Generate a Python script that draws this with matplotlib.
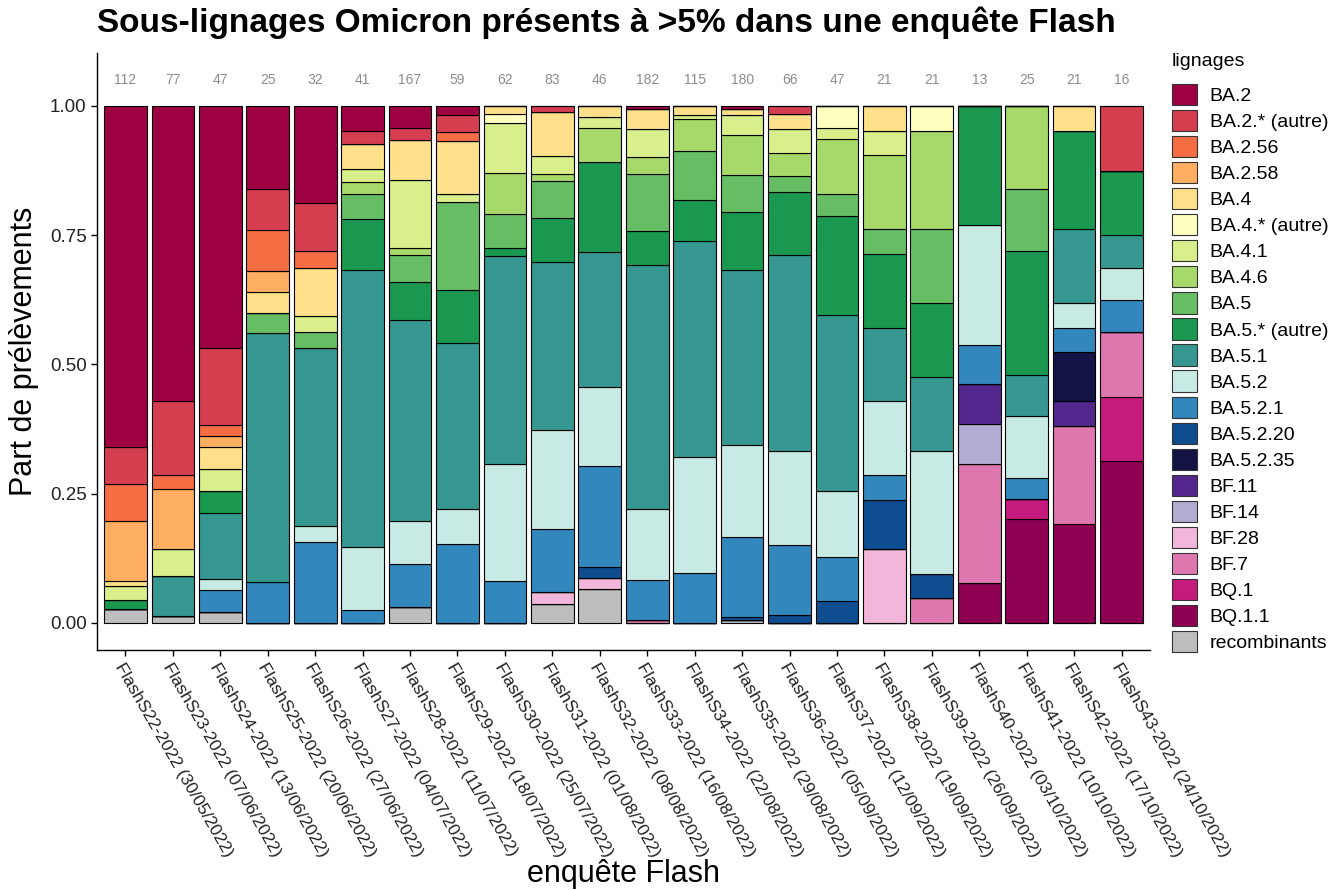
import numpy as np
import matplotlib
matplotlib.use('Agg')
import matplotlib.pyplot as plt
from matplotlib.patches import Patch

plt.rcParams['font.family'] = ['Liberation Sans', 'DejaVu Sans']

# enquêtes Flash (semaine, date de début)
surveys = ['FlashS22-2022', 'FlashS23-2022', 'FlashS24-2022', 'FlashS25-2022', 'FlashS26-2022',
           'FlashS27-2022', 'FlashS28-2022', 'FlashS29-2022', 'FlashS30-2022', 'FlashS31-2022',
           'FlashS32-2022', 'FlashS33-2022', 'FlashS34-2022', 'FlashS35-2022', 'FlashS36-2022',
           'FlashS37-2022', 'FlashS38-2022', 'FlashS39-2022', 'FlashS40-2022', 'FlashS41-2022',
           'FlashS42-2022', 'FlashS43-2022']
dates = ['30/05/2022', '07/06/2022', '13/06/2022', '20/06/2022', '27/06/2022', '04/07/2022',
         '11/07/2022', '18/07/2022', '25/07/2022', '01/08/2022', '08/08/2022', '16/08/2022',
         '22/08/2022', '29/08/2022', '05/09/2022', '12/09/2022', '19/09/2022', '26/09/2022',
         '03/10/2022', '10/10/2022', '17/10/2022', '24/10/2022']
n_total = [112, 77, 47, 25, 32, 41, 167, 59, 62, 83, 46, 182, 115, 180, 66, 47, 21, 21, 13, 25, 21, 16]

# nombre de prélèvements par lignage (un élément par enquête)
ba2 = [74, 44, 22, 4, 6, 2, 7, 1, 0, 0, 0, 1, 0, 1, 0, 0, 0, 0, 0, 0, 0, 0]
ba2_autre = [8, 11, 7, 2, 3, 1, 4, 2, 0, 1, 0, 0, 0, 0, 1, 0, 0, 0, 0, 0, 0, 2]
ba2_56 = [8, 2, 1, 2, 1, 0, 0, 1, 0, 0, 0, 0, 0, 0, 0, 0, 0, 0, 0, 0, 0, 0]
ba2_58 = [13, 9, 1, 1, 0, 0, 0, 0, 0, 0, 0, 0, 0, 0, 0, 0, 0, 0, 0, 0, 0, 0]
ba4 = [1, 0, 2, 1, 3, 2, 13, 6, 1, 7, 1, 7, 2, 2, 2, 0, 1, 0, 0, 0, 1, 0]
ba4_autre = [0, 0, 0, 0, 0, 0, 0, 0, 1, 0, 0, 0, 0, 0, 0, 2, 0, 1, 0, 0, 0, 0]
ba4_1 = [3, 4, 2, 0, 1, 1, 22, 1, 6, 3, 1, 10, 1, 7, 3, 1, 1, 0, 0, 0, 0, 0]
ba4_6 = [0, 0, 0, 0, 0, 1, 2, 0, 5, 1, 3, 6, 7, 14, 3, 5, 3, 4, 0, 4, 0, 0]
ba5 = [0, 0, 0, 1, 1, 2, 9, 10, 4, 6, 0, 20, 11, 13, 2, 2, 1, 3, 0, 3, 0, 0]
ba5_autre = [2, 0, 2, 0, 0, 4, 12, 6, 1, 7, 8, 12, 9, 20, 8, 9, 3, 3, 3, 6, 4, 2]
ba5_1 = [0, 6, 6, 12, 11, 22, 65, 19, 25, 27, 12, 86, 48, 61, 25, 16, 3, 3, 0, 2, 3, 1]
ba5_2 = [0, 0, 1, 0, 1, 5, 14, 4, 14, 16, 7, 25, 26, 32, 12, 6, 3, 5, 3, 3, 1, 1]
ba5_2_1 = [0, 0, 2, 2, 5, 1, 14, 9, 5, 10, 9, 14, 11, 28, 9, 4, 1, 0, 1, 1, 1, 1]
ba5_2_20 = [0, 0, 0, 0, 0, 0, 0, 0, 0, 0, 1, 0, 0, 1, 1, 2, 2, 1, 0, 0, 0, 0]
ba5_2_35 = [0, 0, 0, 0, 0, 0, 0, 0, 0, 0, 0, 0, 0, 0, 0, 0, 0, 0, 0, 0, 2, 0]
bf11 = [0, 0, 0, 0, 0, 0, 0, 0, 0, 0, 0, 0, 0, 0, 0, 0, 0, 0, 1, 0, 1, 0]
bf14 = [0, 0, 0, 0, 0, 0, 0, 0, 0, 0, 0, 0, 0, 0, 0, 0, 0, 0, 1, 0, 0, 0]
bf28 = [0, 0, 0, 0, 0, 0, 0, 0, 0, 2, 1, 0, 0, 0, 0, 0, 3, 0, 0, 0, 0, 0]
bf7 = [0, 0, 0, 0, 0, 0, 0, 0, 0, 0, 0, 1, 0, 0, 0, 0, 0, 1, 3, 0, 4, 2]
bq1 = [0, 0, 0, 0, 0, 0, 0, 0, 0, 0, 0, 0, 0, 0, 0, 0, 0, 0, 0, 1, 0, 2]
bq1_1 = [0, 0, 0, 0, 0, 0, 0, 0, 0, 0, 0, 0, 0, 0, 0, 0, 0, 0, 1, 5, 4, 5]
recomb = [3, 1, 1, 0, 0, 0, 5, 0, 0, 3, 3, 0, 0, 1, 0, 0, 0, 0, 0, 0, 0, 0]

lineages = ['BA.2', 'BA.2.* (autre)', 'BA.2.56', 'BA.2.58', 'BA.4', 'BA.4.* (autre)', 'BA.4.1',
            'BA.4.6', 'BA.5', 'BA.5.* (autre)', 'BA.5.1', 'BA.5.2', 'BA.5.2.1', 'BA.5.2.20',
            'BA.5.2.35', 'BF.11', 'BF.14', 'BF.28', 'BF.7', 'BQ.1', 'BQ.1.1', 'recombinants']
counts = [ba2, ba2_autre, ba2_56, ba2_58, ba4, ba4_autre, ba4_1, ba4_6, ba5, ba5_autre, ba5_1,
          ba5_2, ba5_2_1, ba5_2_20, ba5_2_35, bf11, bf14, bf28, bf7, bq1, bq1_1, recomb]
colors = ['#9E0142', '#D53E4F', '#F46D43', '#FDAE61', '#FEE08B', '#FFFFBF', '#D9EF8B',
          '#A6D96A', '#66BD63', '#1A9850', '#35978F', '#C7EAE5', '#3288BD', '#0E4D8F',
          '#131345', '#54278F', '#B2ABD2', '#F1B6DA', '#DE77AE', '#C51B7D', '#8E0152', '#BEBEBE']

fig = plt.figure(figsize=(13.44, 8.9), dpi=100)
ax = fig.add_axes([97 / 1344, 1 - 650 / 890, (1150 - 97) / 1344, (650 - 53) / 890])

x = np.arange(1, len(surveys) + 1)
n_arr = np.array(n_total, dtype=float)
bottom = np.zeros(len(surveys))
# empilement : recombinants en bas, BA.2 en haut
for name, c, col in reversed(list(zip(lineages, counts, colors))):
    frac = np.array(c) / n_arr
    ax.bar(x, frac, width=0.9, bottom=bottom, color=col, edgecolor='black', linewidth=0.8)
    bottom += frac

for xi, n in zip(x, n_total):
    ax.text(xi, 1.05, str(n), ha='center', va='center', fontsize=10, color='#8C8C8C')

ax.set_xlim(0.4, len(surveys) + 0.6)
ax.set_ylim(-0.0525, 1.1025)
ax.set_yticks([0, 0.25, 0.5, 0.75, 1.0])
ax.set_yticklabels(['0.00', '0.25', '0.50', '0.75', '1.00'], fontsize=13.5, color='#222222')
ax.set_xticks(x)
ax.set_xticklabels([f'{s} ({d})' for s, d in zip(surveys, dates)], rotation=-60,
                   ha='left', va='top', rotation_mode='anchor', fontsize=12.5, color='#222222')
ax.spines['top'].set_visible(False)
ax.spines['right'].set_visible(False)
ax.spines['left'].set_linewidth(1.0)
ax.spines['bottom'].set_linewidth(1.0)
ax.tick_params(length=4, width=1.0)
ax.set_ylabel('Part de prélèvements', fontsize=22, labelpad=8)

fig.text((97 + 1150) / 2 / 1344, 1 - 874 / 890, 'enquête Flash', ha='center', va='center', fontsize=22)
fig.text(97 / 1344, 1 - 23 / 890, 'Sous-lignages Omicron présents à >5% dans une enquête Flash',
         ha='left', va='center', fontsize=24, fontweight='bold')

# légende : titre posé à part pour régler l'écart avec les clés
fig.text(1172 / 1344, 1 - 62 / 890, 'lignages', ha='left', va='center', fontsize=14)
handles = [Patch(facecolor=col, edgecolor='#333333', linewidth=0.8) for col in colors]
leg = fig.legend(handles, lineages, loc='upper left', bbox_to_anchor=(1168 / 1344, 1 - 80 / 890),
                 fontsize=14, frameon=False, handlelength=1.3, handleheight=1.3,
                 labelspacing=0.25, handletextpad=0.65, borderaxespad=0, borderpad=0.2)

fig.savefig('out.png', dpi=100)
